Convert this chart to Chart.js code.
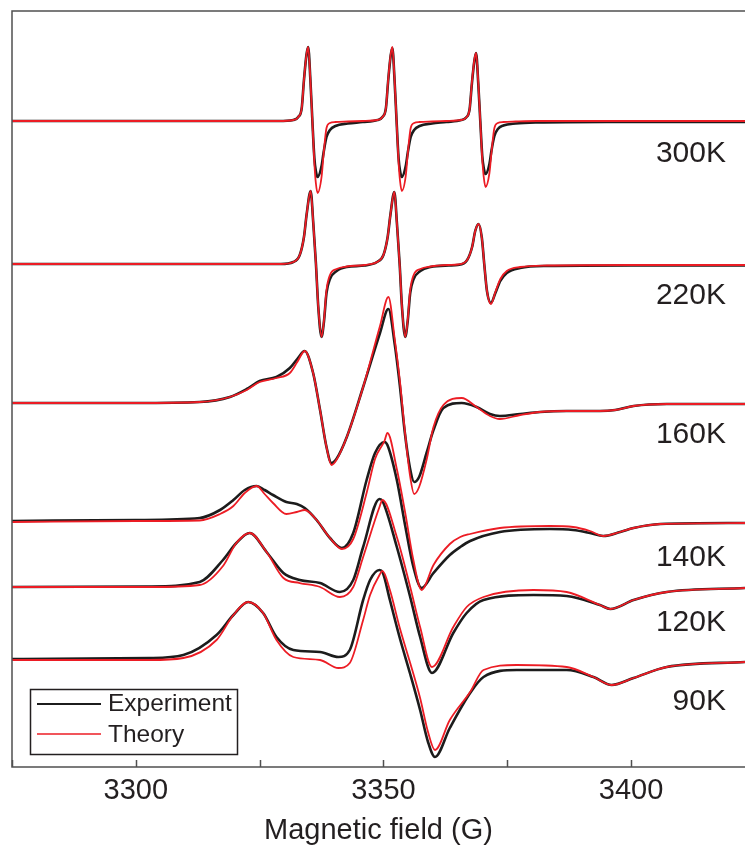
<!DOCTYPE html>
<html lang="en">
<head>
  <meta charset="UTF-8" />
  <title>EPR spectra</title>
  <script src="https://cdn.jsdelivr.net/npm/chart.js"></script>
  <style>
    html, body { margin: 0; padding: 0; background: #fff; }
  </style>
</head>
<body>
  <canvas id="epr" width="745" height="852"></canvas>

  <script>
    // temperatures, top to bottom
    const temps = ['300K', '220K', '160K', '140K', '120K', '90K'];
    // vertical offset of each trace (plot units)
    const baselines = [646, 503, 364, 246, 180, 107];

    // 300K
    const field300 = [3275, 3300, 3320,
      3328.8, 3331.8, 3332.8, 3333.5, 3333.95, 3334.45, 3334.8, 3335.25, 3335.65, 3336.05, 3336.35, 3336.7, 3337.5, 3337.9, 3338.5, 3339.2, 3340.3, 3342.8,
      3345.8, 3348.8, 3349.8, 3350.5, 3350.95, 3351.45, 3351.8, 3352.25, 3352.65, 3353.05, 3353.35, 3353.7, 3354.5, 3354.9, 3355.5, 3356.2, 3357.3, 3359.8,
      3362.7, 3365.7, 3366.7, 3367.4, 3367.85, 3368.35, 3368.7, 3369.15, 3369.55, 3369.95, 3370.25, 3370.6, 3371.4, 3371.8, 3372.4, 3373.1, 3374.2, 3376.7, 3381, 3395, 3423];
    const exp300 = [0, 0, 0,
      0, 1, 4, 13, 41, 66, 74, 41, 0, -37, -50, -56, -45, -32, -16, -9, -5, -2.5,
      -1, 1, 4, 13, 40, 65, 73, 40, 0, -37, -50, -56, -45, -32, -16, -9, -5, -2.5,
      -1, 1, 3.5, 12, 37, 60, 68, 37, 0, -35, -47, -53, -43, -30, -15, -8, -4.5, -2.5, -1.5, -1, -1];
    const theo300 = [0, 0, 0,
      0, 1, 4, 13, 41, 66, 74, 41, 0, -42, -62, -72, -56, -34, -7, -2, -1, -0.5,
      0, 1, 4, 13, 41, 66, 74, 41, 0, -41, -60, -70, -55, -33, -7, -2, -1, -0.5,
      0, 1, 3.5, 12, 38, 61, 68, 38, 0, -38, -56, -66, -52, -32, -7, -2, -1, -0.5, 0, 0, 0];

    // 220K
    const field220 = [3275, 3310, 3320,
      3329.3, 3331.8, 3333.1, 3333.95, 3334.5, 3335.3, 3335.83, 3336.37, 3336.84, 3337.5, 3338.0, 3338.5, 3339.2, 3340.55, 3342.6,
      3346.2, 3348.7, 3350.0, 3350.85, 3351.4, 3352.2, 3352.73, 3353.27, 3353.74, 3354.4, 3354.9, 3355.4, 3356.1, 3357.45, 3359.5, 3363.2,
      3365.0, 3366.9, 3367.9, 3368.53, 3369.2, 3369.87, 3370.35, 3370.9, 3371.7, 3372.6, 3373.6, 3374.9, 3377.6, 3383, 3400, 3423];
    const exp220 = [0, 0, 0,
      0, 2, 9, 27, 50, 73, 41, 0, -43, -73, -57, -29, -15, -7, -3,
      -1.5, 2, 9, 27, 49, 72, 40, 0, -43, -73, -57, -29, -15, -7, -3, -1.5,
      -1, 4, 17, 33, 40, 26, 0, -27, -39, -29, -17, -9, -4, -2, -1.5, -1.5];
    const theo220 = [0, 0, 0,
      0, 2, 9, 27, 50, 73, 41, 0, -43, -73, -56, -26, -11, -5, -2.5,
      -1, 2, 9, 27, 49, 72, 40, 0, -43, -73, -56, -26, -11, -5, -2.5, -1,
      -0.5, 4, 17, 33, 40, 26, 0, -27, -40, -28, -15, -7, -3, -1.5, -1, -1];

    // 160K
    const field160 = [3275, 3300, 3312.9, 3319, 3322.4, 3325, 3328.4, 3331.1, 3332.6, 3334.1, 3335.8, 3337.2, 3338.5, 3339.5, 3340.5,
      3342.6, 3345.9, 3349.3, 3351.0, 3352.3, 3353.3, 3354.3, 3355.35, 3356.2, 3357.2, 3358.7, 3360.1, 3362.1, 3365.8, 3368.8,
      3371.5, 3373.5, 3377.6, 3381.6, 3387, 3393.7, 3396.8, 3400.5, 3407.2, 3423];
    const exp160 = [0, 0, 1, 6, 14, 22, 26, 35, 44, 52, 30, -7, -44, -60, -56,
      -34, 16, 70, 94, 58, 18, -29, -65, -79, -74, -50, -27, -5, 0, -4,
      -11, -13, -11, -9, -8, -8, -7, -3, -1, -1];
    const theo160 = [0, 0, 1, 6, 13, 21, 25, 30, 41, 52, 30, -7, -44, -62, -57,
      -34, 16, 77, 106, 63, 23, -27, -72, -91, -84, -57, -24, -2, 5, -4,
      -13, -16, -12, -9, -8, -8, -7, -3, -1, -1];

    // 140K
    const field140 = [3275, 3300, 3312.9, 3317, 3319.7, 3322, 3324.4, 3326, 3327.7, 3330.4, 3332.5, 3334.1, 3336.5,
      3339.2, 3341.6, 3343.9, 3346.6, 3348.3, 3350.2, 3350.8, 3352.7, 3354.4, 3356, 3357.7, 3360.1, 3363.4,
      3365.5, 3367.5, 3373.5, 3383.6, 3388.3, 3391.7, 3394.4, 3397.8, 3400.5, 3405.9, 3423];
    const exp140 = [0, 1, 3, 11, 21, 31, 35, 31, 26, 19, 17, 13, 1,
      -17, -27, -12, 41, 68, 79, 76, 41, -5, -45, -67, -52, -34,
      -26, -20, -11, -8, -9, -12, -15, -11, -7, -3, -2];
    const theo140 = [-1, 0, 0.5, 7, 15, 28, 35, 27, 18, 7, 9, 11, 1,
      -17, -28, -18, 28, 62, 80, 88, 52, 8, -38, -69, -44, -23,
      -16, -13, -7, -5, -6, -10, -15, -11, -7, -3, -2];

    // 120K
    const field120 = [3275, 3302.8, 3312.9, 3317.6, 3320.3, 3323, 3326.4, 3329.8, 3333.1, 3337.2, 3341.2, 3343.9, 3345.9, 3349.2, 3349.8,
      3352.7, 3355.4, 3357.4, 3359.8, 3364.1, 3366.8, 3370.2, 3380.3, 3387, 3393.7, 3395.8, 3400.5, 3407.2, 3423];
    const exp120 = [0, 0.5, 5, 27, 44, 54, 35, 14, 7, 4, -5, 7, 40, 88, 86,
      40, -10, -50, -86, -46, -26, -13, -8, -9, -18, -22, -13, -5, -1];
    const theo120 = [0, 0, 2, 21, 44, 54, 35, 9, 4, 0, -10, 0, 30, 80, 87,
      50, 0, -40, -80, -40, -20, -10, -3, -5, -18, -22, -13, -5, -1];

    // 90K
    const field90 = [3275, 3302.8, 3309.6, 3316.3, 3319.7, 3322.7, 3325.7, 3328.4, 3331.8, 3337.2, 3340.9, 3343.2, 3345.9, 3347.3, 3349.2,
      3349.8, 3351.3, 3353.3, 3355.4, 3357.4, 3359.0, 3360.4, 3363.4, 3367.5, 3370.2, 3376.9, 3387, 3392.4, 3396.1, 3400.5, 3407.2, 3423];
    const exp90 = [1, 2, 5, 25, 45, 58, 47, 23, 10, 8, 3, 10, 60, 80, 90,
      88, 60, 22, -14, -50, -82, -97, -68, -33, -17, -10, -10, -17, -25, -18, -7, -2];
    const theo90 = [0, 0, 2, 20, 45, 58, 47, 20, 3, 0, -8, -3, 40, 65, 85,
      89, 70, 32, -3, -38, -72, -90, -60, -32, -10, -5, -7, -17, -25, -18, -7, -2];

    const spectra = [
      { field: field300, exp: exp300, theo: theo300 },
      { field: field220, exp: exp220, theo: theo220 },
      { field: field160, exp: exp160, theo: theo160 },
      { field: field140, exp: exp140, theo: theo140 },
      { field: field120, exp: exp120, theo: theo120 },
      { field: field90, exp: exp90, theo: theo90 }
    ];

    const BLACK = '#1c1c1c';
    const RED = '#ec1c24';
    const TEXT = '#231f20';
    const AXIS = '#505050';
    const FONT = "'Liberation Sans', Arial, Helvetica, sans-serif";

    Chart.defaults.font.family = FONT;

    const datasets = [];
    temps.forEach((t, i) => {
      const s = spectra[i];
      datasets.push({
        label: 'Experiment ' + t,
        data: s.field.map((b, j) => ({ x: b, y: baselines[i] + s.exp[j] })),
        borderColor: BLACK, borderWidth: 2.6, order: 1
      });
      datasets.push({
        label: 'Theory ' + t,
        data: s.field.map((b, j) => ({ x: b, y: baselines[i] + s.theo[j] })),
        borderColor: RED, borderWidth: 1.8, order: 0
      });
    });

    // axis frame, inward ticks, trace labels and boxed legend
    const decor = {
      id: 'decor',
      afterDraw(chart) {
        const { ctx, chartArea: a, scales: { x } } = chart;
        ctx.save();
        ctx.strokeStyle = AXIS;
        ctx.lineWidth = 1.5;
        ctx.beginPath();
        ctx.moveTo(a.right, a.top);
        ctx.lineTo(a.left, a.top);
        ctx.lineTo(a.left, a.bottom);
        ctx.lineTo(a.right, a.bottom);
        ctx.stroke();

        ctx.beginPath();
        x.ticks.forEach(t => {
          if (t.value % 25 !== 0) return;
          const px = Math.round(x.getPixelForValue(t.value)) + 0.5;
          ctx.moveTo(px, a.bottom);
          ctx.lineTo(px, a.bottom - 7);
        });
        ctx.stroke();

        // temperature labels
        const labelY = [154, 296, 435, 558, 623, 702];
        ctx.fillStyle = TEXT;
        ctx.font = '30px ' + FONT;
        ctx.textAlign = 'right';
        ctx.textBaseline = 'middle';
        temps.forEach((t, i) => ctx.fillText(t, 726, labelY[i]));

        // legend
        ctx.lineWidth = 1.5;
        ctx.strokeStyle = TEXT;
        ctx.strokeRect(30.5, 689.5, 207, 65);
        ctx.lineWidth = 2;
        ctx.strokeStyle = BLACK;
        ctx.beginPath(); ctx.moveTo(37, 704); ctx.lineTo(101, 704); ctx.stroke();
        ctx.lineWidth = 1.6;
        ctx.strokeStyle = RED;
        ctx.beginPath(); ctx.moveTo(37, 734); ctx.lineTo(101, 734); ctx.stroke();
        ctx.font = '24.5px ' + FONT;
        ctx.textAlign = 'left';
        ctx.fillText('Experiment', 108, 704);
        ctx.fillText('Theory', 108, 735);
        ctx.restore();
      }
    };

    new Chart(document.getElementById('epr'), {
      type: 'line',
      data: { datasets },
      options: {
        responsive: false,
        animation: false,
        devicePixelRatio: 1,
        layout: { padding: { left: 12, top: 11, right: 0, bottom: 0 } },
        elements: {
          point: { radius: 0 },
          line: { cubicInterpolationMode: 'monotone', fill: false }
        },
        plugins: { legend: { display: false }, tooltip: { enabled: false } },
        scales: {
          x: {
            type: 'linear',
            min: 3275,
            max: 3423,
            grid: { display: false, drawTicks: false },
            border: { display: false },
            ticks: {
              stepSize: 25,
              autoSkip: false,
              maxRotation: 0,
              padding: 7,
              color: TEXT,
              font: { size: 29 },
              callback: v => (v % 50 === 0 ? String(v) : '')
            },
            title: {
              display: true,
              text: 'Magnetic field (G)',
              color: TEXT,
              font: { size: 29 },
              padding: { top: 0, bottom: 4 }
            },
            afterFit: s => {
              s.height = 85;
              s.paddingLeft = 0;
              s.paddingRight = 0;
            }
          },
          y: { min: 0, max: 756, display: false }
        }
      },
      plugins: [decor]
    });
  </script>
</body>
</html>
